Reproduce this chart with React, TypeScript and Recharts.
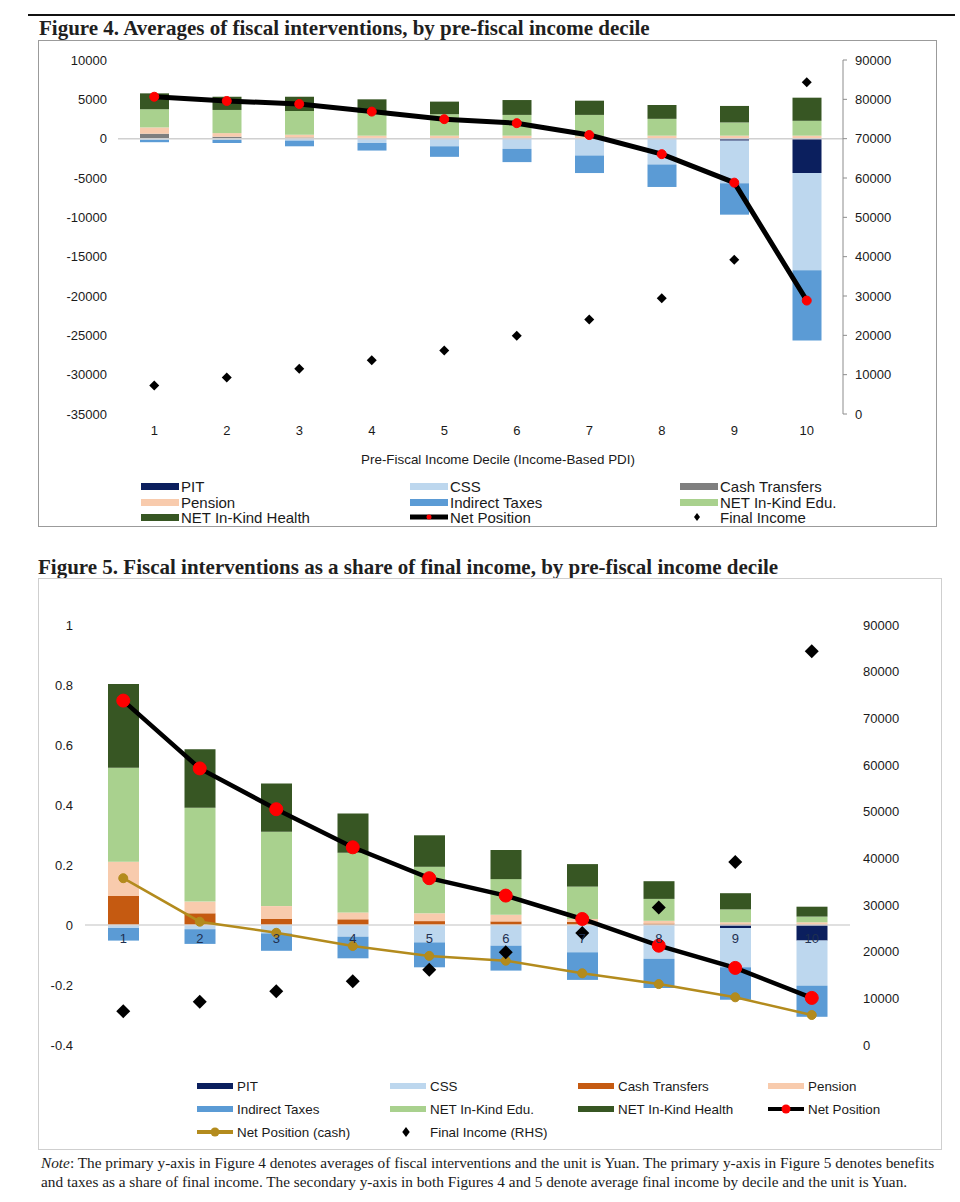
import React from 'react';
import {
  ComposedChart, Bar, Line, Scatter, XAxis, YAxis, ReferenceLine, LabelList,
} from 'recharts';

const SANS = '"Liberation Sans", Arial, sans-serif';
const SERIF = '"Liberation Serif", "Times New Roman", serif';

const DECILES = ['1', '2', '3', '4', '5', '6', '7', '8', '9', '10'];

// average final income by decile (Yuan, right axis in both figures)
const FINAL_INCOME = [7250, 9250, 11500, 13650, 16150, 19900, 24000, 29450, 39200, 84350];

// Figure 4: averages in Yuan
const F4_PIT = [0, 0, 0, 0, 0, 0, 0, 0, -250, -4370];
const F4_CSS = [-150, -150, -250, -550, -970, -1300, -2140, -3280, -5420, -12350];
const F4_CASH = [630, 250, 150, 100, 80, 60, 50, 40, 40, 30];
const F4_PENSION = [800, 460, 350, 280, 300, 320, 250, 340, 340, 350];
const F4_INDIRECT = [-300, -400, -720, -960, -1340, -1680, -2230, -2860, -3990, -8950];
const F4_EDU = [2310, 2940, 3020, 2920, 2730, 2640, 2720, 2140, 1680, 1890];
const F4_HEALTH = [2020, 1680, 1810, 1700, 1600, 1890, 1810, 1760, 2100, 2940];
const F4_NET = [5330, 4790, 4410, 3440, 2480, 1970, 460, -1970, -5590, -20580];

// Figure 5: shares of final income
const F5_PIT = [0, 0, 0, 0, 0, 0, 0, 0, -0.010, -0.052];
const F5_CSS = [-0.010, -0.014, -0.028, -0.039, -0.058, -0.069, -0.091, -0.113, -0.131, -0.150];
const F5_CASH = [0.097, 0.039, 0.020, 0.019, 0.013, 0.012, 0.011, 0.005, 0.003, 0.002];
const F5_PENSION = [0.114, 0.039, 0.043, 0.023, 0.026, 0.022, 0.009, 0.009, 0.006, 0.007];
const F5_INDIRECT = [-0.042, -0.049, -0.058, -0.072, -0.083, -0.083, -0.092, -0.097, -0.108, -0.104];
const F5_EDU = [0.313, 0.313, 0.248, 0.199, 0.155, 0.119, 0.108, 0.073, 0.043, 0.019];
const F5_HEALTH = [0.279, 0.195, 0.161, 0.131, 0.105, 0.097, 0.075, 0.059, 0.054, 0.033];
const F5_NET = [0.748, 0.522, 0.386, 0.259, 0.156, 0.098, 0.020, -0.069, -0.143, -0.243];
const F5_NET_CASH = [0.156, 0.011, -0.026, -0.070, -0.103, -0.119, -0.161, -0.197, -0.241, -0.300];

const F4_LEFT_TICKS = [-35000, -30000, -25000, -20000, -15000, -10000, -5000, 0, 5000, 10000];
const RIGHT_TICKS = [0, 10000, 20000, 30000, 40000, 50000, 60000, 70000, 80000, 90000];
const F5_LEFT_TICKS = [-0.4, -0.2, 0, 0.2, 0.4, 0.6, 0.8, 1];

const C = {
  pit: '#0b1f5e',
  css: '#bdd7ee',
  cash4: '#7f7f7f',
  cash5: '#c55a11',
  pension: '#f8cbad',
  indirect: '#5b9bd5',
  edu: '#a9d18e',
  health: '#375623',
  net: '#000000',
  netDot: '#ff0000',
  netCash: '#b38b1d',
};

const fig4Data = DECILES.map((decile, i) => ({
  decile,
  pit: F4_PIT[i],
  css: F4_CSS[i],
  cash: F4_CASH[i],
  pension: F4_PENSION[i],
  indirect: F4_INDIRECT[i],
  edu: F4_EDU[i],
  health: F4_HEALTH[i],
  net: F4_NET[i],
  finalIncome: FINAL_INCOME[i],
}));

const fig5Data = DECILES.map((decile, i) => ({
  decile,
  pit: F5_PIT[i],
  css: F5_CSS[i],
  cash: F5_CASH[i],
  pension: F5_PENSION[i],
  indirect: F5_INDIRECT[i],
  edu: F5_EDU[i],
  health: F5_HEALTH[i],
  net: F5_NET[i],
  netCash: F5_NET_CASH[i],
  axisBase: 0,
  finalIncome: FINAL_INCOME[i],
}));

const diamond = (half: number) => (props: any) => {
  const { cx, cy } = props;
  if (cx == null || cy == null) return <g />;
  return (
    <polygon
      points={`${cx},${cy - half} ${cx + half},${cy} ${cx},${cy + half} ${cx - half},${cy}`}
      fill="#000"
    />
  );
};

const tickStyle = { fill: '#1a1a1a', fontSize: 13, fontFamily: SANS };

type LegendKind = 'rect' | 'line' | 'diamond';
interface LegendEntry {
  label: string;
  kind: LegendKind;
  color: string;
  marker?: string;
}

const FIG4_LEGEND: LegendEntry[] = [
  { label: 'PIT', kind: 'rect', color: C.pit },
  { label: 'CSS', kind: 'rect', color: C.css },
  { label: 'Cash Transfers', kind: 'rect', color: C.cash4 },
  { label: 'Pension', kind: 'rect', color: C.pension },
  { label: 'Indirect Taxes', kind: 'rect', color: C.indirect },
  { label: 'NET In-Kind Edu.', kind: 'rect', color: C.edu },
  { label: 'NET In-Kind Health', kind: 'rect', color: C.health },
  { label: 'Net Position', kind: 'line', color: C.net, marker: C.netDot },
  { label: 'Final Income', kind: 'diamond', color: '#000' },
];

const FIG5_LEGEND: LegendEntry[] = [
  { label: 'PIT', kind: 'rect', color: C.pit },
  { label: 'CSS', kind: 'rect', color: C.css },
  { label: 'Cash Transfers', kind: 'rect', color: C.cash5 },
  { label: 'Pension', kind: 'rect', color: C.pension },
  { label: 'Indirect Taxes', kind: 'rect', color: C.indirect },
  { label: 'NET In-Kind Edu.', kind: 'rect', color: C.edu },
  { label: 'NET In-Kind Health', kind: 'rect', color: C.health },
  { label: 'Net Position', kind: 'line', color: C.net, marker: C.netDot },
  { label: 'Net Position (cash)', kind: 'line', color: C.netCash, marker: C.netCash },
  { label: 'Final Income (RHS)', kind: 'diamond', color: '#000' },
];

const LegendIcon = ({ entry, w, h, lineW, markR, dia }: any) => {
  if (entry.kind === 'rect') {
    return <div style={{ width: w, height: h, background: entry.color, flex: 'none' }} />;
  }
  const sh = 16;
  if (entry.kind === 'line') {
    return (
      <svg width={w} height={sh} style={{ flex: 'none', display: 'block' }}>
        <line x1={0} y1={sh / 2} x2={w} y2={sh / 2} stroke={entry.color} strokeWidth={lineW} />
        <circle cx={w / 2} cy={sh / 2} r={markR} fill={entry.marker} />
      </svg>
    );
  }
  const cx = w / 2 - 2;
  return (
    <svg width={w} height={sh} style={{ flex: 'none', display: 'block' }}>
      <polygon
        points={`${cx},${sh / 2 - dia} ${cx + dia * 0.75},${sh / 2} ${cx},${sh / 2 + dia} ${cx - dia * 0.75},${sh / 2}`}
        fill="#000"
      />
    </svg>
  );
};

const ChartLegend = ({ entries, cols, colX, rowY, iconW, iconH, gap, fontSize, lineW, markR, dia }: any) => (
  <>
    {entries.map((e: LegendEntry, i: number) => (
      <div
        key={e.label}
        style={{
          position: 'absolute',
          left: colX[i % cols],
          top: rowY[Math.floor(i / cols)] - 9,
          height: 18,
          display: 'flex',
          alignItems: 'center',
          whiteSpace: 'nowrap',
          fontFamily: SANS,
          fontSize,
          color: '#1a1a1a',
        }}
      >
        <LegendIcon entry={e} w={iconW} h={iconH} lineW={lineW} markR={markR} dia={dia} />
        <span style={{ marginLeft: gap }}>{e.label}</span>
      </div>
    ))}
  </>
);

const Figure4 = () => (
  <ComposedChart
    width={899}
    height={400}
    data={fig4Data}
    stackOffset="sign"
    margin={{ top: 20, right: 0, bottom: 4, left: 10 }}
  >
    <XAxis dataKey="decile" axisLine={false} tickLine={false} tickMargin={6} height={22} tick={tickStyle} />
    <YAxis
      yAxisId="left"
      domain={[-35000, 10000]}
      ticks={F4_LEFT_TICKS}
      interval={0}
      width={70}
      axisLine={false}
      tickLine={false}
      tickMargin={5}
      tick={tickStyle}
    />
    <YAxis
      yAxisId="right"
      orientation="right"
      domain={[0, 90000]}
      ticks={RIGHT_TICKS}
      interval={0}
      width={94}
      axisLine={{ stroke: '#8c8c8c' }}
      tickLine={{ stroke: '#8c8c8c' }}
      tickSize={4}
      tickMargin={8}
      tick={tickStyle}
    />
    <ReferenceLine yAxisId="left" y={0} stroke="#d0d0d0" strokeWidth={1.5} />
    <Bar yAxisId="left" dataKey="pit" stackId="s" fill={C.pit} barSize={29} isAnimationActive={false} />
    <Bar yAxisId="left" dataKey="css" stackId="s" fill={C.css} barSize={29} isAnimationActive={false} />
    <Bar yAxisId="left" dataKey="cash" stackId="s" fill={C.cash4} barSize={29} isAnimationActive={false} />
    <Bar yAxisId="left" dataKey="pension" stackId="s" fill={C.pension} barSize={29} isAnimationActive={false} />
    <Bar yAxisId="left" dataKey="indirect" stackId="s" fill={C.indirect} barSize={29} isAnimationActive={false} />
    <Bar yAxisId="left" dataKey="edu" stackId="s" fill={C.edu} barSize={29} isAnimationActive={false} />
    <Bar yAxisId="left" dataKey="health" stackId="s" fill={C.health} barSize={29} isAnimationActive={false} />
    <Line
      yAxisId="left"
      dataKey="net"
      stroke={C.net}
      strokeWidth={5}
      dot={{ r: 4.5, fill: C.netDot, stroke: C.netDot, strokeWidth: 1 }}
      isAnimationActive={false}
    />
    <Scatter yAxisId="right" dataKey="finalIncome" shape={diamond(5)} isAnimationActive={false} />
  </ComposedChart>
);

const Figure5 = () => (
  <ComposedChart
    width={904}
    height={482}
    data={fig5Data}
    stackOffset="sign"
    margin={{ top: 47, right: 12, bottom: 15, left: 7 }}
  >
    <XAxis dataKey="decile" hide />
    <YAxis
      yAxisId="left"
      domain={[-0.4, 1]}
      ticks={F5_LEFT_TICKS}
      interval={0}
      width={40}
      axisLine={false}
      tickLine={false}
      tickMargin={6}
      tick={tickStyle}
    />
    <YAxis
      yAxisId="right"
      orientation="right"
      domain={[0, 90000]}
      ticks={RIGHT_TICKS}
      interval={0}
      width={80}
      axisLine={false}
      tickLine={false}
      tickMargin={7}
      tick={tickStyle}
    />
    <ReferenceLine yAxisId="left" y={0} stroke="#d6d6d6" strokeWidth={1.5} />
    <Bar yAxisId="left" dataKey="pit" stackId="s" fill={C.pit} barSize={31} isAnimationActive={false} />
    <Bar yAxisId="left" dataKey="css" stackId="s" fill={C.css} barSize={31} isAnimationActive={false} />
    <Bar yAxisId="left" dataKey="cash" stackId="s" fill={C.cash5} barSize={31} isAnimationActive={false} />
    <Bar yAxisId="left" dataKey="pension" stackId="s" fill={C.pension} barSize={31} isAnimationActive={false} />
    <Bar yAxisId="left" dataKey="indirect" stackId="s" fill={C.indirect} barSize={31} isAnimationActive={false} />
    <Bar yAxisId="left" dataKey="edu" stackId="s" fill={C.edu} barSize={31} isAnimationActive={false} />
    <Bar yAxisId="left" dataKey="health" stackId="s" fill={C.health} barSize={31} isAnimationActive={false} />
    {/* category labels sit on the zero line, as in the Excel original */}
    <Line yAxisId="left" dataKey="axisBase" stroke="none" dot={false} activeDot={false} isAnimationActive={false}>
      <LabelList dataKey="decile" position="bottom" offset={9} fill="#1f3050" fontSize={13} fontFamily={SANS} />
    </Line>
    <Line
      yAxisId="left"
      dataKey="net"
      stroke={C.net}
      strokeWidth={4.5}
      dot={{ r: 6.5, fill: C.netDot, stroke: C.netDot, strokeWidth: 1 }}
      isAnimationActive={false}
    />
    <Line
      yAxisId="left"
      dataKey="netCash"
      stroke={C.netCash}
      strokeWidth={2.5}
      dot={{ r: 4.5, fill: C.netCash, stroke: C.netCash, strokeWidth: 1 }}
      isAnimationActive={false}
    />
    <Scatter yAxisId="right" dataKey="finalIncome" shape={diamond(7)} isAnimationActive={false} />
  </ComposedChart>
);

export default function App() {
  return (
    <div style={{ position: 'absolute', left: 0, top: 0, width: 960, height: 1202, background: '#fff', overflow: 'hidden' }}>
      <div style={{ position: 'absolute', left: 28, top: 14, width: 927, height: 2, background: '#111' }} />
      <div
        style={{
          position: 'absolute', left: 39, top: 17, fontFamily: SERIF, fontWeight: 700,
          fontSize: 21, lineHeight: '22px', whiteSpace: 'nowrap', color: '#1f1f1f',
        }}
      >
        Figure 4. Averages of fiscal interventions, by pre-fiscal income decile
      </div>
      <div
        style={{
          position: 'absolute', left: 38, top: 40, width: 899, height: 487,
          border: '1px solid #9b9b9b', boxSizing: 'border-box',
        }}
      />
      <div style={{ position: 'absolute', left: 38, top: 40 }}>
        <Figure4 />
      </div>
      <div
        style={{
          position: 'absolute', left: 298, width: 400, top: 452, textAlign: 'center',
          fontFamily: SANS, fontSize: 13.4, color: '#1a1a1a', whiteSpace: 'nowrap',
        }}
      >
        Pre-Fiscal Income Decile (Income-Based PDI)
      </div>
      <ChartLegend
        entries={FIG4_LEGEND}
        cols={3}
        colX={[141, 410, 680]}
        rowY={[486, 502, 517]}
        iconW={38}
        iconH={7}
        gap={2}
        fontSize={15}
        lineW={5}
        markR={2.5}
        dia={4}
      />

      <div
        style={{
          position: 'absolute', left: 38, top: 556, fontFamily: SERIF, fontWeight: 700,
          fontSize: 21, lineHeight: '22px', whiteSpace: 'nowrap', color: '#1f1f1f',
        }}
      >
        Figure 5. Fiscal interventions as a share of final income, by pre-fiscal income decile
      </div>
      <div
        style={{
          position: 'absolute', left: 38, top: 578, width: 904, height: 572,
          border: '1px solid #cfcfcf', boxSizing: 'border-box',
        }}
      />
      <div style={{ position: 'absolute', left: 38, top: 578 }}>
        <Figure5 />
      </div>
      <ChartLegend
        entries={FIG5_LEGEND}
        cols={4}
        colX={[197, 390, 578, 768]}
        rowY={[1086, 1109, 1132]}
        iconW={36}
        iconH={6}
        gap={4}
        fontSize={13.4}
        lineW={4}
        markR={4.5}
        dia={5}
      />

      <div
        style={{
          position: 'absolute', left: 41, top: 1153, fontFamily: SERIF, fontSize: 15.3,
          lineHeight: '19px', whiteSpace: 'nowrap', color: '#1a1a1a',
        }}
      >
        <i>Note</i>: The primary y-axis in Figure 4 denotes averages of fiscal interventions and the unit is Yuan. The primary y-axis in Figure 5 denotes benefits
        <br />
        and taxes as a share of final income. The secondary y-axis in both Figures 4 and 5 denote average final income by decile and the unit is Yuan.
      </div>
    </div>
  );
}
